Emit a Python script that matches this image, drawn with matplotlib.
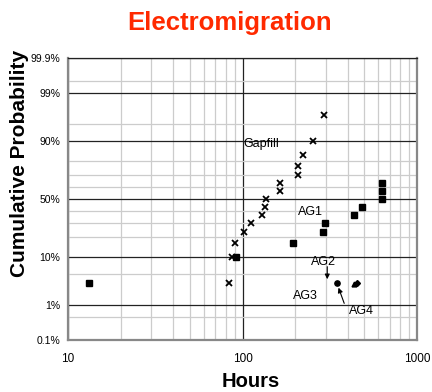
import math
from statistics import NormalDist
import numpy as np
import matplotlib
matplotlib.use("Agg")
import matplotlib.pyplot as plt

plt.rcParams.update({
    "font.family": ["Liberation Sans", "DejaVu Sans"],
})

# ---------------------------------------------------------------
# DATA (hours to failure, cumulative %)
# ---------------------------------------------------------------
gap_hours = [84, 87, 91, 102, 112, 130, 135, 137, 165, 165, 208, 208, 221, 255, 294]
gap_prob = [3.3, 10, 16.7, 23.3, 30, 36.7, 43.3, 50, 56.7, 63.3, 70, 76.7, 83.3, 90, 96.7]

ag_hours = [13.2, 92, 195, 291, 298, 437, 487, 628, 628, 628]
ag_prob = [3.3, 10, 16.7, 23.3, 30, 36.7, 43.3, 50, 56.7, 63.3]

ag3_hours = [346]
ag3_prob = [3.3]

ag4_hours = [436, 456]
ag4_prob = [3.1, 3.3]

y_major = [0.1, 1, 10, 50, 90, 99, 99.9]
y_major_labels = ["0.1%", "1%", "10%", "50%", "90%", "99%", "99.9%"]
y_minor = [0.5, 5, 20, 30, 40, 60, 70, 80, 95, 99.5]
x_major = [10, 100, 1000]
x_major_labels = ["10", "100", "1000"]

# ---------------------------------------------------------------
# normal probability scale
# ---------------------------------------------------------------
_nd = NormalDist()

def probit(p):
  '''percent -> standard normal quantile'''
  p = np.clip(np.asarray(p, dtype=float), 1e-4, 100 - 1e-4) / 100.0
  return np.vectorize(_nd.inv_cdf, otypes=[float])(p)

def unprobit(z):
  '''standard normal quantile -> percent'''
  z = np.asarray(z, dtype=float)
  return 100.0 * np.vectorize(_nd.cdf, otypes=[float])(z)

fig = plt.figure(figsize=(4.32, 3.92), dpi=100)
ax = fig.add_axes([68 / 432, 52 / 392, 349 / 432, 282 / 392])

ax.set_xscale("log")
ax.set_yscale("function", functions=(probit, unprobit))
ax.set_xlim(10, 1000)
ax.set_ylim(0.1, 99.9)

ax.plot(gap_hours, gap_prob, "x", color="black", ms=4.2, mew=1.3, zorder=5)
ax.plot(ag_hours, ag_prob, "s", color="black", ms=4.3, zorder=5)
ax.plot(ag3_hours, ag3_prob, "o", color="black", ms=3.8, zorder=5)
ax.plot(ag4_hours[:1], ag4_prob[:1], "^", color="black", ms=3.5, zorder=5)
ax.plot(ag4_hours[1:], ag4_prob[1:], "D", color="black", ms=3.0, zorder=5)

ax.set_yticks(y_major)
ax.set_yticklabels(y_major_labels)
ax.set_yticks(y_minor, minor=True)
ax.set_xticks(x_major)
ax.set_xticklabels(x_major_labels)
ax.xaxis.set_minor_locator(matplotlib.ticker.LogLocator(base=10, subs=np.arange(2, 10)))
ax.xaxis.set_minor_formatter(matplotlib.ticker.NullFormatter())

ax.grid(True, which="major", color="#222222", lw=0.9)
ax.grid(True, which="minor", color="#cccccc", lw=0.9)
ax.set_axisbelow(True)
ax.tick_params(which="both", length=0)
ax.tick_params(axis="y", labelsize=7.5, pad=5.5)
ax.tick_params(axis="x", labelsize=8.5, pad=9.5)

for side in ["left", "bottom", "right"]:
  ax.spines[side].set_color("#888888")
  ax.spines[side].set_linewidth(1.6)
ax.spines["top"].set_color("#222222")
ax.spines["top"].set_linewidth(0.9)

# labels on the chart
ax.text(127.6, 88.7, "Gapfill", fontsize=9, ha="center", va="center")
ax.text(244.6, 38.7, "AG1", fontsize=9, ha="center", va="center")
ax.text(290, 8.3, "AG2", fontsize=9, ha="center", va="center")
ax.text(229, 1.7, "AG3", fontsize=9, ha="center", va="center")
ax.text(478.6, 0.70, "AG4", fontsize=9, ha="center", va="center")
arrow = dict(arrowstyle="-|>", color="black", lw=0.8, mutation_scale=7, shrinkA=0, shrinkB=0)
ax.annotate("", xy=(306, 3.94), xytext=(306, 6.9), arrowprops=arrow)
ax.annotate("", xy=(355, 2.6), xytext=(382.7, 1.11), arrowprops=arrow)

fig.text(230 / 432, 1 - 30 / 392, "Electromigration", color="#ff2a00",
         fontsize=18.5, fontweight="bold", ha="center", va="baseline")
fig.text(20 / 432, 1 - 163.5 / 392, "Cumulative Probability", fontsize=15,
         fontweight="bold", rotation=90, ha="center", va="center")
fig.text(251 / 432, 1 - 386.7 / 392, "Hours", fontsize=14.5,
         fontweight="bold", ha="center", va="baseline")

fig.savefig("out.png", dpi=100)
